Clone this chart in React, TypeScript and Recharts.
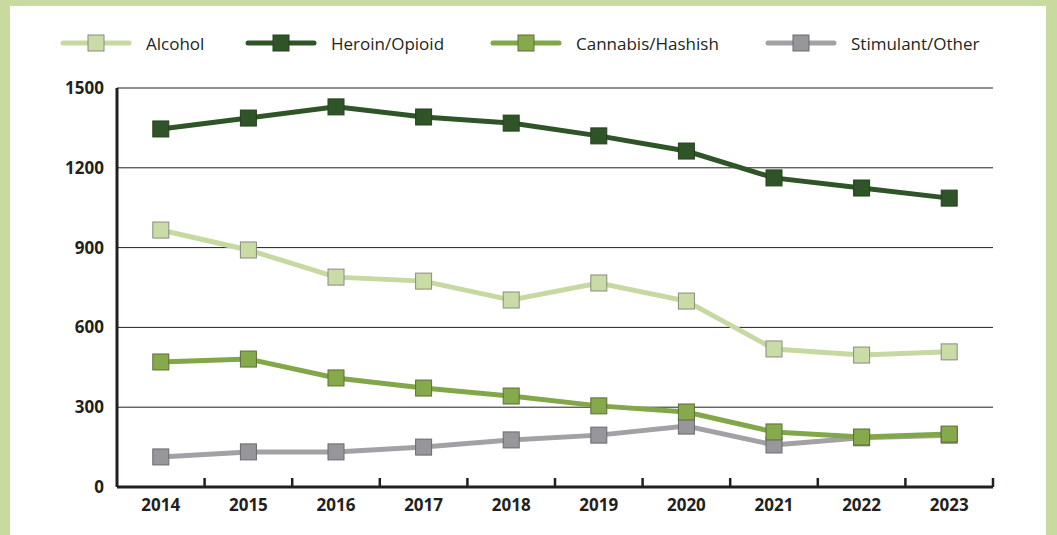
import { LineChart, Line, XAxis, YAxis, CartesianGrid, Legend } from 'recharts';

const years = ['2014', '2015', '2016', '2017', '2018', '2019', '2020', '2021', '2022', '2023'];
const alcohol = [966, 891, 789, 774, 703, 767, 699, 519, 496, 508];
const heroin = [1346, 1387, 1429, 1391, 1368, 1320, 1263, 1162, 1124, 1086];
const cannabis = [470, 481, 410, 372, 342, 305, 282, 207, 188, 199];
const stimulant = [113, 132, 132, 150, 177, 195, 229, 158, 185, 195];
const yTicks = [0, 300, 600, 900, 1200, 1500];

const series = [
  { key: 'alcohol', name: 'Alcohol', line: '#c5d9a1', fill: '#c9dca6', edge: '#8a8a80' },
  { key: 'heroin', name: 'Heroin/Opioid', line: '#2e5427', fill: '#2e5427', edge: '#26401f' },
  { key: 'cannabis', name: 'Cannabis/Hashish', line: '#81a748', fill: '#86aa4b', edge: '#5c6e3a' },
  { key: 'stimulant', name: 'Stimulant/Other', line: '#a2a2a6', fill: '#97979b', edge: '#6a6a6e' },
];

const data = years.map((y, i) => ({
  year: y,
  alcohol: alcohol[i],
  heroin: heroin[i],
  cannabis: cannabis[i],
  stimulant: stimulant[i],
}));

const INK = '#231f20';
const FONT = '"Open Sans", "Liberation Sans", sans-serif';

function squareDot(fill: string, edge: string) {
  return (props: any) => {
    const { cx, cy, index } = props;
    if (cx == null || cy == null) return <g key={index} />;
    return (
      <rect key={index} x={cx - 8} y={cy - 8} width={16} height={16} fill={fill} stroke={edge} strokeWidth={1} />
    );
  };
}

function YearTick(props: any) {
  const { x, y, payload } = props;
  const off = payload.offset ?? 0;
  return (
    <g>
      <text x={x} y={y + 24} textAnchor="middle" fill={INK} fontFamily={FONT} fontWeight={700} fontSize={17}>
        {payload.value}
      </text>
      <line x1={x + off} y1={y} x2={x + off} y2={y - 9} stroke={INK} strokeWidth={2.5} />
    </g>
  );
}

function LegendBox() {
  const lefts = [60, 245, 490, 765];
  return (
    <div style={{ position: 'relative', width: 1057, height: 30 }}>
      {series.map((s, i) => (
        <div key={s.key} style={{ position: 'absolute', left: lefts[i], top: 0, display: 'flex', alignItems: 'center', height: 30 }}>
          <svg width={72} height={20}>
            <line x1={3} y1={10} x2={69} y2={10} stroke={s.line} strokeWidth={5} strokeLinecap="round" />
            <rect x={28} y={2} width={16} height={16} fill={s.fill} stroke={s.edge} strokeWidth={1} />
          </svg>
          <span style={{ marginLeft: 14, fontFamily: FONT, fontSize: 17, color: INK }}>{s.name}</span>
        </div>
      ))}
    </div>
  );
}

export default function App() {
  // stimulant drawn before cannabis so green squares sit on top
  const drawOrder = [series[0], series[1], series[3], series[2]];
  return (
    <div style={{ position: 'absolute', left: 0, top: 0, width: 1057, height: 535, background: '#c9daa0' }}>
      <div style={{ position: 'absolute', left: 10, top: 6, width: 1036, height: 529, background: '#ffffff' }} />
      <div style={{ position: 'absolute', left: 0, top: 0 }}>
        <LineChart width={1057} height={535} data={data} margin={{ top: 88, right: 64, bottom: 0, left: 0 }}>
          <CartesianGrid vertical={false} stroke={INK} strokeWidth={1} horizontalValues={[300, 600, 900, 1200, 1500]} />
          <XAxis
            dataKey="year"
            scale="band"
            height={48}
            axisLine={{ stroke: INK, strokeWidth: 3 }}
            tickLine={false}
            tickSize={0}
            tickMargin={0}
            interval={0}
            tick={<YearTick />}
          />
          <YAxis
            width={117}
            domain={[0, 1500]}
            ticks={yTicks}
            interval={0}
            axisLine={{ stroke: INK, strokeWidth: 3 }}
            tickLine={false}
            tickMargin={7}
            tick={{ fill: INK, fontFamily: FONT, fontWeight: 700, fontSize: 17 }}
          />
          <Legend
            verticalAlign="middle"
            layout="horizontal"
            wrapperStyle={{ top: 28, left: 0, width: 1057 }}
            content={() => <LegendBox />}
          />
          {drawOrder.map((s) => (
            <Line
              key={s.key}
              dataKey={s.key}
              name={s.name}
              type="linear"
              stroke={s.line}
              strokeWidth={5}
              dot={squareDot(s.fill, s.edge)}
              activeDot={false}
              isAnimationActive={false}
            />
          ))}
        </LineChart>
      </div>
    </div>
  );
}
